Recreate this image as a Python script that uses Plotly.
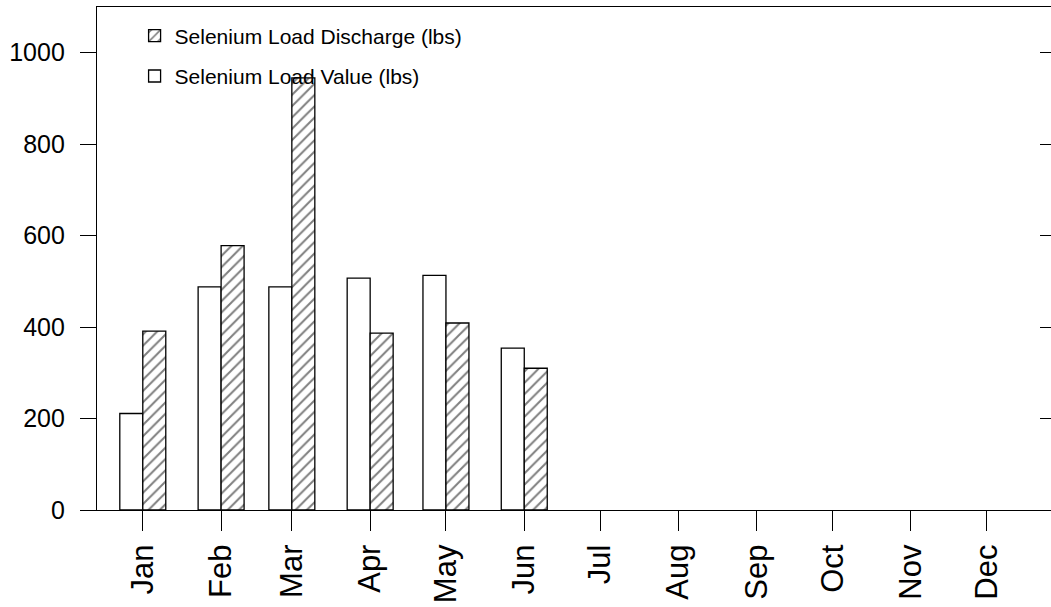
import plotly.graph_objects as go

# ---- data ----
bar_months = ["2021-01-01", "2021-02-01", "2021-03-01", "2021-04-01", "2021-05-01", "2021-06-01"]
load_value = [211, 488, 488, 507, 513, 354]
load_discharge = [391, 578, 945, 387, 409, 310]
tick_dates = ["2021-%02d-01" % m for m in range(1, 13)]
tick_labels = ["Jan", "Feb", "Mar", "Apr", "May", "Jun", "Jul", "Aug", "Sep", "Oct", "Nov", "Dec"]
y_ticks = [0, 200, 400, 600, 800, 1000]

DAY = 86400000
BAR_W = 9.1 * DAY
FONT = "Liberation Sans, Arial, sans-serif"

fig = go.Figure()
fig.add_trace(go.Bar(
    x=bar_months, y=load_value, name="Selenium Load Value (lbs)",
    width=BAR_W, offset=-BAR_W,
    marker=dict(color="white", line=dict(color="black", width=1.3)),
    legendgroup="v", legendrank=2,
))
fig.add_trace(go.Bar(
    x=bar_months, y=load_discharge, name="Selenium Load Discharge (lbs)",
    width=BAR_W, offset=0,
    marker=dict(color="white", line=dict(color="black", width=1.3),
                pattern=dict(shape="/", fgcolor="black", bgcolor="white", size=8, solidity=0.25)),
    legendgroup="d", legendrank=1,
))
# right-side mirror ticks
fig.add_trace(go.Scatter(x=[tick_dates[0]], y=[0], yaxis="y2", mode="markers",
                         marker=dict(opacity=0), showlegend=False, hoverinfo="skip"))

fig.update_layout(
    width=1051, height=607,
    margin=dict(l=97, r=0, t=7, b=97),
    paper_bgcolor="white", plot_bgcolor="white",
    font=dict(family=FONT, color="black"),
    barmode="group",
    showlegend=True,
    legend=dict(x=0.0394, y=0.983, xanchor="left", yanchor="top",
                font=dict(size=21, family=FONT), bgcolor="rgba(0,0,0,0)",
                tracegroupgap=10, itemwidth=30),
    xaxis=dict(
        type="date", automargin=False,
        range=["2020-12-13 21:00", "2021-12-26 12:00"],
        tickmode="array", tickvals=tick_dates, ticktext=tick_labels,
        tickangle=-90, tickfont=dict(size=31, family=FONT),
        ticks="outside", ticklen=20, tickwidth=1.3, tickcolor="black",
        ticklabelstandoff=1,
        showline=True, linecolor="black", linewidth=1.3, mirror=True,
        showgrid=False, zeroline=False,
    ),
    yaxis=dict(
        range=[0, 1100], tickmode="array", tickvals=y_ticks, automargin=False,
        tickfont=dict(size=25, family=FONT),
        ticks="outside", ticklen=16, tickwidth=1.3, tickcolor="black",
        ticklabelstandoff=10,
        showline=True, linecolor="black", linewidth=1.3,
        showgrid=False, zeroline=False,
    ),
    yaxis2=dict(
        overlaying="y", side="right", range=[0, 1100], tickmode="array", tickvals=y_ticks,
        automargin=False,
        showticklabels=False, ticks="inside", ticklen=11, tickwidth=1.3, tickcolor="black",
        showline=False, showgrid=False, zeroline=False,
    ),
)

fig.write_html(
    "out.html",
    config={"displayModeBar": False},
    post_script="document.body.style.margin='0';document.body.style.overflow='hidden';",
)
